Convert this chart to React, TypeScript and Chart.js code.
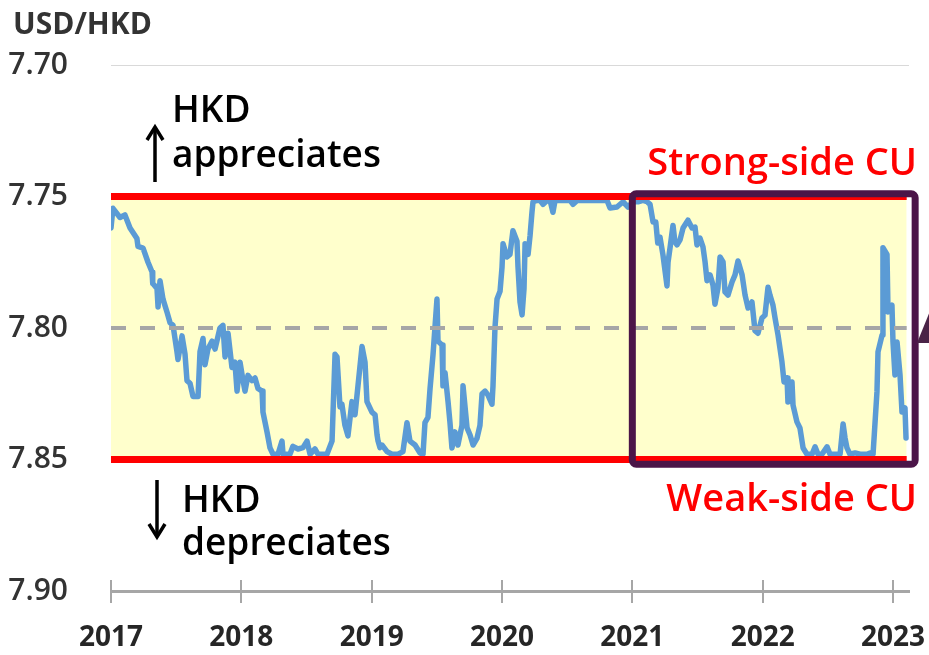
import React, { useEffect, useRef } from "react";
import { Chart, registerables } from "chart.js";

Chart.register(...registerables);

// ---- data (decimal years, USD/HKD rate) ----
const DATES = [
  2017.0, 2017.015, 2017.069, 2017.107, 2017.146, 2017.199, 2017.207, 2017.246, 2017.284, 2017.315,
  2017.32, 2017.353, 2017.361, 2017.376, 2017.399, 2017.43, 2017.453, 2017.476, 2017.506, 2017.514,
  2017.545, 2017.568, 2017.583, 2017.606, 2017.629, 2017.668, 2017.683, 2017.706, 2017.721, 2017.744,
  2017.775, 2017.798, 2017.836, 2017.859, 2017.875, 2017.898, 2017.928, 2017.951, 2017.967, 2017.99,
  2018.013, 2018.028, 2018.051, 2018.082, 2018.105, 2018.128, 2018.159, 2018.166, 2018.197, 2018.22,
  2018.243, 2018.281, 2018.312, 2018.32, 2018.373, 2018.396, 2018.435, 2018.473, 2018.504, 2018.527,
  2018.565, 2018.588, 2018.657, 2018.696, 2018.719, 2018.734, 2018.757, 2018.772, 2018.795, 2018.818,
  2018.849, 2018.872, 2018.895, 2018.926, 2018.949, 2018.964, 2019.002, 2019.026, 2019.041, 2019.049,
  2019.064, 2019.079, 2019.118, 2019.156, 2019.202, 2019.24, 2019.271, 2019.294, 2019.333, 2019.371,
  2019.394, 2019.409, 2019.432, 2019.448, 2019.471, 2019.501, 2019.509, 2019.54, 2019.547, 2019.563,
  2019.586, 2019.601, 2019.616, 2019.639, 2019.662, 2019.693, 2019.701, 2019.732, 2019.755, 2019.778,
  2019.808, 2019.831, 2019.847, 2019.87, 2019.893, 2019.923, 2019.931, 2019.946, 2019.962, 2019.985,
  2020.0, 2020.008, 2020.038, 2020.061, 2020.084, 2020.115, 2020.123, 2020.138, 2020.154, 2020.169,
  2020.177, 2020.2, 2020.215, 2020.23, 2020.238, 2020.269, 2020.292, 2020.315, 2020.345, 2020.369,
  2020.391, 2020.407, 2020.445, 2020.522, 2020.545, 2020.576, 2020.652, 2020.729, 2020.806, 2020.829,
  2020.882, 2020.929, 2020.967, 2021.005, 2021.044, 2021.082, 2021.113, 2021.136, 2021.159, 2021.18,
  2021.195, 2021.212, 2021.235, 2021.266, 2021.274, 2021.289, 2021.312, 2021.327, 2021.343, 2021.366,
  2021.389, 2021.427, 2021.458, 2021.481, 2021.496, 2021.519, 2021.542, 2021.558, 2021.573, 2021.596,
  2021.619, 2021.634, 2021.657, 2021.673, 2021.696, 2021.711, 2021.734, 2021.765, 2021.788, 2021.811,
  2021.842, 2021.865, 2021.888, 2021.918, 2021.941, 2021.964, 2021.995, 2022.018, 2022.041, 2022.056,
  2022.079, 2022.095, 2022.118, 2022.148, 2022.164, 2022.187, 2022.194, 2022.225, 2022.233, 2022.263,
  2022.286, 2022.31, 2022.34, 2022.379, 2022.402, 2022.425, 2022.455, 2022.494, 2022.517, 2022.594,
  2022.617, 2022.632, 2022.647, 2022.67, 2022.709, 2022.747, 2022.801, 2022.824, 2022.847, 2022.877,
  2022.885, 2022.916, 2022.923, 2022.954, 2022.962, 2022.992, 2023.0, 2023.015, 2023.031, 2023.054,
  2023.069, 2023.092, 2023.1,
];

const RATES = [
  7.762, 7.7545, 7.758, 7.757, 7.762, 7.766, 7.769, 7.7696, 7.775, 7.7787,
  7.783, 7.785, 7.792, 7.782, 7.789, 7.794, 7.798, 7.799, 7.809, 7.812,
  7.803, 7.81, 7.82, 7.821, 7.826, 7.826, 7.809, 7.804, 7.814, 7.808,
  7.805, 7.808, 7.8, 7.799, 7.811, 7.802, 7.815, 7.813, 7.824, 7.813,
  7.82, 7.824, 7.818, 7.82, 7.819, 7.823, 7.824, 7.832, 7.8395, 7.8456,
  7.848, 7.848, 7.843, 7.848, 7.848, 7.845, 7.846, 7.8455, 7.843, 7.848,
  7.846, 7.848, 7.848, 7.843, 7.81, 7.811, 7.83, 7.829, 7.837, 7.841,
  7.828, 7.833, 7.822, 7.807, 7.813, 7.828, 7.832, 7.833, 7.8405, 7.843,
  7.8455, 7.8445, 7.847, 7.848, 7.848, 7.847, 7.836, 7.843, 7.8445, 7.8475,
  7.848, 7.836, 7.834, 7.823, 7.81, 7.789, 7.805, 7.8065, 7.822, 7.817,
  7.828, 7.836, 7.8456, 7.8395, 7.8445, 7.837, 7.822, 7.838, 7.8407, 7.8445,
  7.842, 7.837, 7.825, 7.824, 7.8255, 7.829, 7.822, 7.8, 7.789, 7.786,
  7.777, 7.768, 7.773, 7.772, 7.763, 7.767, 7.777, 7.79, 7.795, 7.785,
  7.768, 7.772, 7.765, 7.756, 7.752, 7.7515, 7.7515, 7.753, 7.7515, 7.7515,
  7.756, 7.7515, 7.7515, 7.7515, 7.753, 7.7515, 7.7515, 7.7515, 7.7515, 7.7544,
  7.754, 7.752, 7.754, 7.752, 7.752, 7.7515, 7.752, 7.753, 7.7597, 7.7597,
  7.7677, 7.7654, 7.7722, 7.784, 7.775, 7.7696, 7.761, 7.7673, 7.7684, 7.7665,
  7.762, 7.759, 7.762, 7.7616, 7.7684, 7.7658, 7.7692, 7.7749, 7.782, 7.7798,
  7.7837, 7.791, 7.7848, 7.773, 7.7749, 7.7863, 7.7875, 7.7825, 7.7798, 7.7745,
  7.7798, 7.7875, 7.7924, 7.7901, 7.801, 7.802, 7.7962, 7.7951, 7.7845, 7.7875,
  7.7913, 7.7962, 7.8027, 7.8129, 7.8205, 7.819, 7.8281, 7.8205, 7.8293, 7.8357,
  7.838, 7.8456, 7.848, 7.848, 7.8452, 7.848, 7.848, 7.8452, 7.848, 7.848,
  7.8365, 7.8418, 7.8456, 7.848, 7.8475, 7.848, 7.848, 7.8475, 7.848, 7.8243,
  7.8091, 7.8027, 7.7695, 7.772, 7.7939, 7.7913, 7.8053, 7.8179, 7.8053, 7.8179,
  7.8319, 7.8304, 7.8418,
];

const YEAR_TICKS = [2017, 2018, 2019, 2020, 2021, 2022, 2023];
const RATE_TICKS = [7.7, 7.75, 7.8, 7.85, 7.9];
const STRONG_SIDE = 7.75;
const WEAK_SIDE = 7.85;
const MIDPOINT = 7.8;
const BAND_START = 2017;
const BAND_END = 2023.105;
const HIGHLIGHT_START = 2021;
const HIGHLIGHT_END = 2023.17;
const HIGHLIGHT_TOP = 7.749;
const HIGHLIGHT_BOTTOM = 7.8518;

const FONT = "'Open Sans', 'Noto Sans', sans-serif";
const W = 929;
const H = 655;

const zeroPadding = (scale: any) => {
  scale.paddingLeft = 0;
  scale.paddingRight = 0;
  scale.paddingTop = 0;
  scale.paddingBottom = 0;
};

export default function App() {
  const ref = useRef<HTMLCanvasElement | null>(null);

  useEffect(() => {
    const canvas = ref.current;
    if (!canvas) return;
    const points = DATES.map((d, i) => ({ x: d, y: RATES[i] }));
    const band = (v: number) => [
      { x: BAND_START, y: v },
      { x: BAND_END, y: v },
    ];

    const annotations = {
      id: "annotations",
      afterDraw(chart: any) {
        const ctx = chart.ctx as CanvasRenderingContext2D;
        const xs = chart.scales.x;
        const ys = chart.scales.y;
        const area = chart.chartArea;
        ctx.save();

        // x axis tick marks crossing the axis line
        ctx.strokeStyle = "#A6A6A6";
        ctx.lineWidth = 2;
        YEAR_TICKS.forEach((t) => {
          const px = Math.round(xs.getPixelForValue(t));
          ctx.beginPath();
          ctx.moveTo(px, area.bottom - 11);
          ctx.lineTo(px, area.bottom + 12);
          ctx.stroke();
        });

        // highlight box
        const l = xs.getPixelForValue(HIGHLIGHT_START);
        const r = xs.getPixelForValue(HIGHLIGHT_END);
        const t = ys.getPixelForValue(HIGHLIGHT_TOP);
        const b = ys.getPixelForValue(HIGHLIGHT_BOTTOM);
        ctx.strokeStyle = "#4B1548";
        ctx.lineWidth = 7;
        ctx.lineJoin = "round";
        ctx.beginPath();
        (ctx as any).roundRect(l, t, r - l, b - t, 4);
        ctx.stroke();

        // partial arrow on the right edge
        ctx.fillStyle = "#4A2347";
        ctx.beginPath();
        ctx.moveTo(917, 343);
        ctx.lineTo(930, 311);
        ctx.lineTo(930, 343);
        ctx.closePath();
        ctx.fill();

        // title
        ctx.fillStyle = "#333333";
        ctx.font = `bold 30px ${FONT}`;
        ctx.textAlign = "left";
        ctx.textBaseline = "alphabetic";
        ctx.fillText("USD/HKD", 13, 34);

        // HKD appreciates / depreciates
        ctx.fillStyle = "#000000";
        ctx.font = `600 37px ${FONT}`;
        ctx.fillText("HKD", 172, 122);
        ctx.fillText("appreciates", 172, 167);
        ctx.fillText("HKD", 182, 512);
        ctx.fillText("depreciates", 182, 555);

        // arrows
        ctx.strokeStyle = "#000000";
        ctx.lineWidth = 3.5;
        ctx.lineCap = "butt";
        ctx.lineJoin = "miter";
        ctx.beginPath();
        ctx.moveTo(155, 182);
        ctx.lineTo(155, 128);
        ctx.stroke();
        ctx.beginPath();
        ctx.moveTo(147, 140);
        ctx.lineTo(155, 127);
        ctx.lineTo(163, 140);
        ctx.stroke();

        ctx.beginPath();
        ctx.moveTo(157, 480);
        ctx.lineTo(157, 536);
        ctx.stroke();
        ctx.beginPath();
        ctx.moveTo(149, 524);
        ctx.lineTo(157, 537);
        ctx.lineTo(165, 524);
        ctx.stroke();

        // CU labels
        ctx.fillStyle = "#FF0000";
        ctx.textAlign = "right";
        ctx.font = `600 38px ${FONT}`;
        ctx.fillText("Strong-side CU", 917, 175);
        ctx.fillText("Weak-side CU", 917, 511);

        ctx.restore();
      },
    };

    const chart = new Chart(canvas, {
      type: "line",
      data: {
        datasets: [
          {
            label: "Strong-side CU",
            data: band(STRONG_SIDE),
            borderColor: "#FF0000",
            borderWidth: 7,
            backgroundColor: "#FFFFCC",
            fill: "+1",
            pointRadius: 0,
            order: 0,
          },
          {
            label: "Weak-side CU",
            data: band(WEAK_SIDE),
            borderColor: "#FF0000",
            borderWidth: 7,
            fill: false,
            pointRadius: 0,
            order: 0,
          },
          {
            label: "Midpoint",
            data: band(MIDPOINT),
            borderColor: "#A6A6A6",
            borderWidth: 4,
            borderDash: [15, 14],
            fill: false,
            pointRadius: 0,
            order: 1,
          },
          {
            label: "USD/HKD",
            data: points,
            borderColor: "#5B9BD5",
            borderWidth: 5.5,
            borderJoinStyle: "round",
            borderCapStyle: "round",
            fill: false,
            pointRadius: 0,
            tension: 0,
            order: 2,
          },
        ],
      } as any,
      options: {
        responsive: false,
        animation: false,
        events: [],
        layout: { padding: { top: 65, right: 20, left: 0, bottom: 0 } },
        plugins: {
          legend: { display: false },
          tooltip: { enabled: false },
          title: { display: false },
          filler: { drawTime: "beforeDatasetsDraw" },
        } as any,
        scales: {
          x: {
            type: "linear",
            min: 2017,
            max: 2023.1228,
            afterBuildTicks: (scale: any) => {
              scale.ticks = YEAR_TICKS.map((v) => ({ value: v }));
            },
            afterFit: (scale: any) => {
              scale.height = 64;
              zeroPadding(scale);
            },
            grid: { display: false, drawTicks: false },
            border: { display: true, color: "#A6A6A6", width: 3 },
            ticks: {
              padding: 30,
              color: "#262626",
              font: { family: FONT, size: 28, weight: "bold" },
              maxRotation: 0,
              autoSkip: false,
              callback: (v: any) => String(v),
            },
          },
          y: {
            type: "linear",
            reverse: true,
            min: 7.7,
            max: 7.9,
            afterBuildTicks: (scale: any) => {
              scale.ticks = RATE_TICKS.map((v) => ({ value: v }));
            },
            afterFit: (scale: any) => {
              scale.width = 111;
              zeroPadding(scale);
            },
            grid: {
              drawTicks: false,
              lineWidth: 1,
              color: (c: any) =>
                c.tick && Math.abs(c.tick.value - 7.7) < 1e-6 ? "#D9D9D9" : "rgba(0,0,0,0)",
            },
            border: { display: false },
            ticks: {
              padding: 43,
              color: "#333333",
              font: { family: FONT, size: 30, weight: "600" },
              callback: (v: any) => Number(v).toFixed(2),
            },
          },
        },
      } as any,
      plugins: [annotations],
    });

    return () => chart.destroy();
  }, []);

  return (
    <div style={{ width: W, height: H, overflow: "hidden" }}>
      <style>{`html, body { margin: 0; padding: 0; overflow: hidden; }`}</style>
      <canvas ref={ref} width={W} height={H} style={{ display: "block", width: W, height: H }} />
    </div>
  );
}
